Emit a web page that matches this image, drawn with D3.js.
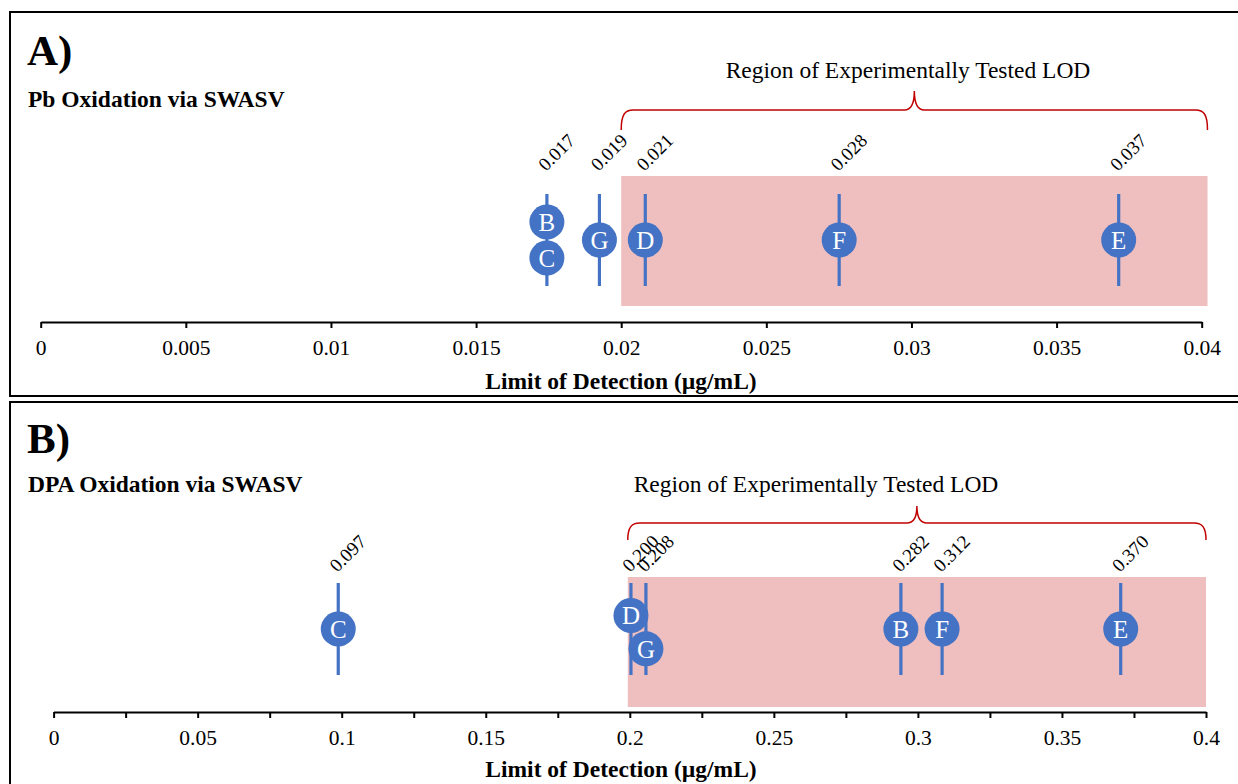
<!DOCTYPE html>
<html>
<head>
<meta charset="utf-8">
<script src="https://cdn.jsdelivr.net/npm/d3@7"></script>
<style>
  body { margin: 0; background: #fff; }
  svg text { font-family: "Liberation Serif", "Times New Roman", serif; }
</style>
</head>
<body>
<svg id="chart" width="1238" height="784"></svg>
<script>
// ---- data ----
// Panel A: Pb oxidation
var pbTicks = [0, 0.005, 0.01, 0.015, 0.02, 0.025, 0.03, 0.035, 0.04];
var pbLineValues = [0.01744, 0.01925, 0.02083, 0.02751, 0.03714];
var pbLineText = ["0.017", "0.019", "0.021", "0.028", "0.037"];
var pbLetters = ["B", "C", "G", "D", "F", "E"];
var pbValues = [0.01744, 0.01744, 0.01925, 0.02083, 0.02751, 0.03714];
var pbStack = [-1, 1, 0, 0, 0, 0];
var pbRegion = [0.02, 0.0402];

// Panel B: DPA oxidation
var dpaTicks = [0, 0.025, 0.05, 0.075, 0.1, 0.125, 0.15, 0.175, 0.2, 0.225, 0.25,
                0.275, 0.3, 0.325, 0.35, 0.375, 0.4];
var dpaLineValues = [0.0988, 0.2004, 0.2056, 0.2941, 0.3084, 0.3704];
var dpaLineText = ["0.097", "0.200", "0.208", "0.282", "0.312", "0.370"];
var dpaLetters = ["C", "D", "G", "B", "F", "E"];
var dpaValues = [0.0988, 0.2004, 0.2056, 0.2941, 0.3084, 0.3704];
var dpaStack = [0, -0.75, 1.1, 0, 0, 0];
var dpaRegion = [0.1993, 0.4];

var blue = "#4472C4";
var pink = "#EFBFBF";
var braceColor = "#C00000";

var svg = d3.select("#chart");

function fmt(d) { return String(+d.toFixed(3)); }

function drawPanel(p) {
    var g = svg.append("g").attr("class", "panel");

    // frame
    g.append("rect")
        .attr("x", 10).attr("y", p.top)
        .attr("width", 1240).attr("height", p.height)
        .style("fill", "none").style("stroke", "#000").style("stroke-width", 2);

    var x = d3.scaleLinear().domain([p.ticks[0], p.ticks[p.ticks.length - 1]]).range(p.xRange);
    var y = d3.scaleLinear().domain([-1, 1]).range([p.center - 18, p.center + 18]);

    // panel letter + subtitle
    g.append("text")
        .attr("x", 27).attr("y", p.letterY)
        .style("font-size", "43px").style("font-weight", "bold")
        .text(p.letter);
    g.append("text")
        .attr("x", 28).attr("y", p.subY)
        .style("font-size", "23.5px").style("font-weight", "bold")
        .text(p.subtitle);

    // shaded region
    g.append("rect")
        .attr("x", x(p.region[0]))
        .attr("y", p.rectY[0])
        .attr("width", x(p.region[1]) - x(p.region[0]))
        .attr("height", p.rectY[1] - p.rectY[0])
        .style("fill", pink);

    // curly brace over the region
    var x0 = x(p.region[0]), x1 = x(p.region[1]), xm = (x0 + x1) / 2;
    var yb = p.brace[0], yh = p.brace[1], yp = p.brace[2];
    var path = d3.path();
    path.moveTo(x0, yb);
    path.bezierCurveTo(x0, yh + 4, x0 + 4, yh, x0 + 12, yh);
    path.lineTo(xm - 10, yh);
    path.bezierCurveTo(xm - 3, yh, xm, yh - 6, xm, yp);
    path.bezierCurveTo(xm, yh - 6, xm + 3, yh, xm + 10, yh);
    path.lineTo(x1 - 12, yh);
    path.bezierCurveTo(x1 - 4, yh, x1, yh + 4, x1, yb);
    g.append("path")
        .attr("d", path.toString())
        .style("fill", "none").style("stroke", braceColor).style("stroke-width", 1.5);

    g.append("text")
        .attr("x", p.titleX).attr("y", p.titleY)
        .attr("text-anchor", "middle")
        .style("font-size", "23.5px")
        .text("Region of Experimentally Tested LOD");

    // axis
    var axis = g.append("g")
        .attr("transform", "translate(0," + p.axisY + ")")
        .call(d3.axisBottom(x)
            .tickValues(p.ticks)
            .tickSize(6)
            .tickSizeOuter(0)
            .tickPadding(12)
            .tickFormat(function(d) {
                return (Math.round(d * 1000) % p.labelEvery === 0) ? fmt(d) : "";
            }));
    axis.select(".domain").style("stroke", "#000").style("stroke-width", 2);
    axis.selectAll(".tick line").style("stroke", "#000").style("stroke-width", 2);
    axis.selectAll(".tick text")
        .style("font-family", "'Liberation Serif', 'Times New Roman', serif")
        .style("font-size", "21.5px")
        .style("fill", "#000");

    g.append("text")
        .attr("x", 621).attr("y", p.axisTitleY)
        .attr("text-anchor", "middle")
        .style("font-size", "23.5px").style("font-weight", "bold")
        .text("Limit of Detection (\u00b5g/mL)");

    // vertical lines with rotated value labels
    g.selectAll(".lod-line")
        .data(p.lineValues)
        .enter().append("line")
        .attr("class", "lod-line")
        .attr("x1", d => x(d)).attr("x2", d => x(d))
        .attr("y1", p.center - 46).attr("y2", p.center + 46)
        .style("stroke", blue).style("stroke-width", 3.2);

    g.selectAll(".lod-label")
        .data(p.lineValues)
        .enter().append("text")
        .attr("class", "lod-label")
        .attr("transform", d => "translate(" + (x(d) - 1) + "," + p.labelY + ") rotate(-45)")
        .style("font-size", "19px")
        .text((d, i) => p.lineText[i]);

    // lettered markers
    var markers = g.selectAll(".marker")
        .data(p.letters)
        .enter().append("g")
        .attr("class", "marker")
        .attr("transform", (d, i) => "translate(" + x(p.values[i]) + "," + y(p.stack[i]) + ")");
    markers.append("circle")
        .attr("r", 17.5)
        .style("fill", blue);
    markers.append("text")
        .attr("text-anchor", "middle")
        .attr("dy", "0.35em")
        .style("font-size", "25px")
        .style("fill", "#fff")
        .text(d => d);
}

drawPanel({
    top: 12, height: 384,
    letter: "A)", letterY: 65, subtitle: "Pb Oxidation via SWASV", subY: 107,
    ticks: pbTicks, labelEvery: 5, xRange: [40.7, 1201.7],
    lineValues: pbLineValues, lineText: pbLineText,
    letters: pbLetters, values: pbValues, stack: pbStack,
    region: pbRegion, rectY: [176, 306], brace: [130, 110, 91],
    titleX: 908, titleY: 78,
    center: 240, labelY: 172, axisY: 322, axisTitleY: 389
});

drawPanel({
    top: 402, height: 400,
    letter: "B)", letterY: 453, subtitle: "DPA Oxidation via SWASV", subY: 492,
    ticks: dpaTicks, labelEvery: 50, xRange: [53.6, 1206],
    lineValues: dpaLineValues, lineText: dpaLineText,
    letters: dpaLetters, values: dpaValues, stack: dpaStack,
    region: dpaRegion, rectY: [577, 707], brace: [540, 523, 506],
    titleX: 816, titleY: 492,
    center: 629, labelY: 573, axisY: 712, axisTitleY: 777
});
</script>
</body>
</html>
